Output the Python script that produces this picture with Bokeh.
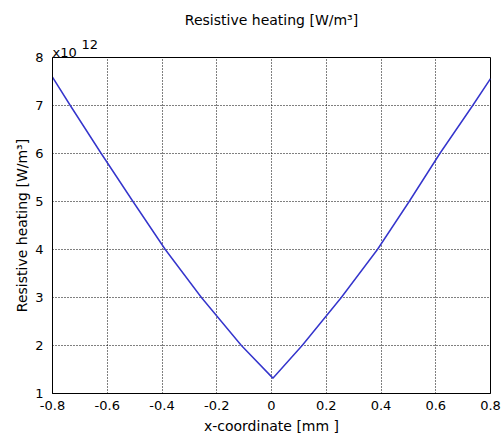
from bokeh.plotting import figure
from bokeh.models import Range1d, FixedTicker, Title
from bokeh.embed import file_html
from bokeh.resources import INLINE

# Data (x in mm, y in units of 1e12 W/m^3)
x_mm = [-0.8, -0.735, -0.622, -0.506, -0.388, -0.256, -0.11, 0.005, 0.112, 0.255, 0.387, 0.503, 0.615, 0.735, 0.8]
heat = [7.59, 7.0, 6.0, 5.0, 4.0, 3.0, 2.0, 1.32, 2.0, 3.0, 4.0, 5.0, 6.0, 7.0, 7.56]

x_ticks = [-0.8, -0.6, -0.4, -0.2, 0, 0.2, 0.4, 0.6, 0.8]
x_tick_labels = ["-0.8", "-0.6", "-0.4", "-0.2", "0", "0.2", "0.4", "0.6", "0.8"]
y_ticks = [1, 2, 3, 4, 5, 6, 7, 8]

title_text = "Resistive heating [W/m³]"
x_label = "x-coordinate [mm ]"
y_label = "Resistive heating [W/m³]"
exp_base = "x10"
exp_power = "12"

FONT = "DejaVu Sans"

p = figure(width=502, height=438, output_backend="svg", toolbar_location=None,
           x_range=Range1d(-0.8, 0.8), y_range=Range1d(1, 8),
           min_border_left=52, min_border_right=12, min_border_top=57, min_border_bottom=45)

# exponent marker rows (nearest the frame first), then a small spacer row
t_base = Title(text=exp_base, align="left", offset=0, standoff=-4,
               text_font=FONT, text_font_size="13px", text_font_style="normal",
               text_color="black")
t_pow = Title(text=exp_power, align="left", offset=29, standoff=-8,
              text_font=FONT, text_font_size="13px", text_font_style="normal",
              text_color="black")
t_gap = Title(text=" ", align="left", standoff=0,
              text_font=FONT, text_font_size="8px", text_color="white")
p.add_layout(t_base, "above")
p.add_layout(t_pow, "above")
p.add_layout(t_gap, "above")

p.title.text = title_text
p.title.align = "center"
p.title.text_font = FONT
p.title.text_font_size = "14px"
p.title.text_font_style = "normal"
p.title.text_color = "black"
p.title.standoff = 6

p.background_fill_color = "white"
p.border_fill_color = "white"
p.outline_line_color = "black"
p.outline_line_width = 1
p.outline_line_alpha = 1

for ax in (p.xaxis[0], p.yaxis[0]):
    ax.major_tick_line_color = None
    ax.minor_tick_line_color = None
    ax.axis_line_color = "black"
    ax.major_label_text_font = FONT
    ax.major_label_text_font_size = "13px"
    ax.major_label_text_color = "black"
    ax.axis_label_text_font = FONT
    ax.axis_label_text_font_size = "14px"
    ax.axis_label_text_font_style = "normal"
    ax.axis_label_text_color = "black"
    ax.major_tick_out = 0
    ax.major_tick_in = 0

p.xaxis.ticker = FixedTicker(ticks=x_ticks)
p.xaxis.major_label_overrides = {t: l for t, l in zip(x_ticks, x_tick_labels)}
p.xaxis.axis_label = x_label
p.xaxis.major_label_standoff = 7
p.xaxis.axis_label_standoff = 5

p.yaxis.ticker = FixedTicker(ticks=y_ticks)
p.yaxis.axis_label = y_label
p.yaxis.major_label_standoff = 9
p.yaxis.axis_label_standoff = 2

for g in (p.xgrid[0], p.ygrid[0]):
    g.grid_line_color = "black"
    g.grid_line_dash = "1 2"
    g.grid_line_width = 1
    g.grid_line_alpha = 1

p.line(x_mm, heat, line_color="#3535cc", line_width=1.5)

open("out.html", "w").write(file_html(p, INLINE))
